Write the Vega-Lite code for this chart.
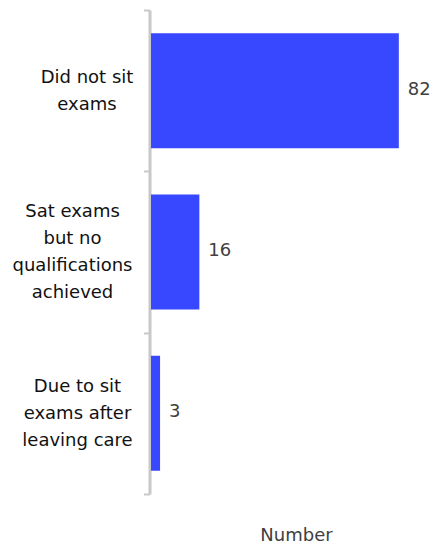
{
  "$schema": "https://vega.github.io/schema/vega-lite/v6.json",
  "autosize": {"type": "none"},
  "width": 272,
  "height": 484,
  "padding": {"left": 151, "top": 10, "right": 10, "bottom": 50},
  "config": {"view": {"stroke": null}, "font": "DejaVu Sans"},
  "data": {
    "values": [
      {"category": "Did not sit\nexams", "value": 82},
      {"category": "Sat exams\nbut no\nqualifications\nachieved", "value": 16},
      {"category": "Due to sit\nexams after\nleaving care", "value": 3}
    ]
  },
  "encoding": {
    "y": {
      "field": "category",
      "type": "nominal",
      "sort": null,
      "scale": {"paddingInner": 0, "paddingOuter": 0},
      "axis": {
        "title": null,
        "domain": true,
        "domainColor": "#c8c8c8",
        "domainWidth": 3,
        "offset": 1.5,
        "ticks": true,
        "tickBand": "extent",
        "tickColor": "#c8c8c8",
        "tickWidth": 2,
        "tickSize": 6,
        "labelAlign": "center",
        "labelBaseline": "middle",
        "labelPadding": {
          "condition": [
            {"test": "substring(datum.value, 0, 3) == 'Did'", "value": 57},
            {"test": "substring(datum.value, 0, 3) == 'Sat'", "value": 71.5}
          ],
          "value": 66.5
        },
        "labelOffset": {
          "condition": [
            {"test": "substring(datum.value, 0, 3) == 'Did'", "value": -13.5},
            {"test": "substring(datum.value, 0, 3) == 'Sat'", "value": -40.5}
          ],
          "value": -27
        },
        "labelFontSize": 18,
        "labelColor": "#111111",
        "labelLineHeight": 27,
        "labelLimit": 0,
        "labelExpr": "split(datum.label, '\\n')"
      }
    },
    "x": {
      "field": "value",
      "type": "quantitative",
      "scale": {"domain": [0, 90]},
      "axis": {
        "domain": false,
        "ticks": false,
        "labels": false,
        "grid": false,
        "title": "Number",
        "titleFontSize": 18,
        "titleFontWeight": "normal",
        "titleColor": "#404040",
        "titleX": 145,
        "titleY": 46,
        "titleAlign": "center",
        "titleBaseline": "alphabetic"
      }
    }
  },
  "layer": [
    {"mark": {"type": "bar", "color": "#3848ff", "height": {"band": 0.713}}},
    {
      "mark": {"type": "text", "align": "left", "baseline": "middle", "dx": 9, "dy": -1, "fontSize": 18, "color": "#404040"},
      "encoding": {"text": {"field": "value", "type": "quantitative"}}
    }
  ]
}
